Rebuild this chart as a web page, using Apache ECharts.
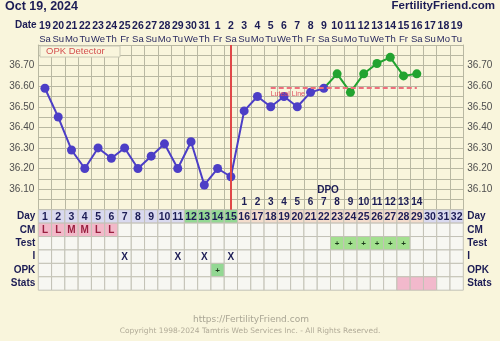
<!DOCTYPE html>
<html><head><meta charset="utf-8">
<script src="https://cdn.jsdelivr.net/npm/echarts@6/dist/echarts.min.js"></script>
<style>html,body{margin:0;padding:0;background:#f9f5dc;}#c{width:500px;height:341px;}</style>
</head><body><div id="c"></div>
<script>
// ---- data ----
const dayNums = ['1','2','3','4','5','6','7','8','9','10','11','12','13','14','15','16','17','18','19','20','21','22','23','24','25','26','27','28','29','30','31','32'];
const dates = ['19','20','21','22','23','24','25','26','27','28','29','30','31','1','2','3','4','5','6','7','8','9','10','11','12','13','14','15','16','17','18','19'];
const weekdays = ['Sa','Su','Mo','Tu','We','Th','Fr','Sa','Su','Mo','Tu','We','Th','Fr','Sa','Su','Mo','Tu','We','Th','Fr','Sa','Su','Mo','Tu','We','Th','Fr','Sa','Su','Mo','Tu'];
const temps = [36.59,36.45,36.29,36.20,36.30,36.25,36.30,36.20,36.26,36.32,36.20,36.33,36.12,36.20,36.16,36.48,36.55,36.50,36.55,36.50,36.57,36.59,36.66,36.57,36.66,36.71,36.74,36.65,36.66];
const follicularEnd = 22;   // last day drawn in blue
const coverLine = 36.59;
const coverStart = '18', coverEnd = '29';
const ovulationDay = '15';
const dpo = ['','','','','','','','','','','','','','','','1','2','3','4','5','6','7','8','9','10','11','12','13','14','','',''];
const dayPhase = ['a','a','a','a','a','a','a','a','a','a','a','f','f','f','f','l','l','l','l','l','l','l','l','l','l','l','l','l','l','a','a','a'];
const cm = ['L','L','M','M','L','L','','','','','','','','','','','','','','','','','','','','','','','','','',''];
const testDays = [23,24,25,26,27,28];
const intercourseDays = [7,11,13,15];
const opkDays = [14];
const statsDays = [28,29,30];
const rows = ['Day','CM','Test','I','OPK','Stats'];

// ---- build ----
const blue = temps.map((t,i)=> i < follicularEnd ? t : null);
const green = temps.map((t,i)=> i >= follicularEnd-1 ? {value:t, symbol: i===follicularEnd-1?'none':'circle'} : null);
const phaseCol = {a:'#d9d9ef', f:'#93d893', l:'#f3dccc'};
const cells = [];
for (let c=0;c<32;c++){
  const d=c+1;
  cells.push({v:[c,0], fill:phaseCol[dayPhase[c]], text:dayNums[c], color:'#1c1c55'});
  cells.push({v:[c,1], fill: cm[c]?'#f2b9c9':'#f7f7f2', text:cm[c], color:'#9a2040'});
  cells.push({v:[c,2], fill: testDays.includes(d)?'#a3e08f':'#f7f7f2', text: testDays.includes(d)?'+':'', color:'#1c3a1c'});
  cells.push({v:[c,3], fill:'#f7f7f2', text: intercourseDays.includes(d)?'X':'', color:'#1c1c55'});
  cells.push({v:[c,4], fill: opkDays.includes(d)?'#93d893':'#f7f7f2', text: opkDays.includes(d)?'+':'', color:'#1c3a1c'});
  cells.push({v:[c,5], fill: statsDays.includes(d)?'#f2b9cc':'#f7f7f2', text:'', color:'#000'});
}
const navy='#1c1c55', gridCol='#b9b8a2';
const FONT='Liberation Sans';
function tLabel(v){const c=Math.round(v*100); if(c%10!==0||c===3600||c===3680) return ''; return (c/100).toFixed(2);}

const chart = echarts.init(document.getElementById('c'), null, {renderer:'canvas'});
chart.setOption({
  backgroundColor:'#f9f5dc',
  animation:false,
  textStyle:{fontFamily:FONT},
  grid:[
    {left:38.3, right:36.7, top:45, height:164.7, show:true, backgroundColor:'#f9f5dc', borderWidth:0},
    {left:38.3, right:36.7, top:209.7, height:80.5, borderWidth:0}
  ],
  xAxis:[
    {type:'category', gridIndex:0, position:'top', data:dayNums, boundaryGap:true,
     axisLine:{show:true, lineStyle:{color:gridCol}}, axisTick:{show:false},
     splitLine:{show:true, interval:0, lineStyle:{color:gridCol, width:1}},
     axisLabel:{interval:0, margin:-1, formatter:(v,i)=>'{d|'+dates[i]+'}\n{w|'+weekdays[i]+'}',
       rich:{d:{fontFamily:FONT, fontWeight:'bold', fontSize:10.5, color:navy, lineHeight:13},
             w:{fontFamily:FONT, fontSize:9.5, color:'#2a2a60', lineHeight:13}}}},
    {type:'category', gridIndex:0, position:'bottom', data:dayNums, boundaryGap:true,
     axisLine:{show:false}, axisTick:{show:false}, splitLine:{show:false},
     axisLabel:{inside:true, interval:0, margin:2, formatter:(v,i)=>dpo[i], fontWeight:'bold', fontSize:10, color:navy, fontFamily:FONT}},
    {type:'category', gridIndex:1, data:dayNums, boundaryGap:true, show:false}
  ],
  yAxis:[
    {type:'value', gridIndex:0, min:36.0, max:36.8, interval:0.05, position:'left',
     axisLine:{show:true, lineStyle:{color:gridCol}}, axisTick:{show:false},
     splitLine:{show:true, lineStyle:{color:gridCol}},
     axisLabel:{formatter:tLabel, margin:4, fontSize:10, color:'#4e4e4e', fontFamily:FONT}},
    {type:'value', gridIndex:0, min:36.0, max:36.8, interval:0.05, position:'right',
     axisLine:{show:true, lineStyle:{color:gridCol}}, axisTick:{show:false}, splitLine:{show:false},
     axisLabel:{formatter:tLabel, margin:4, fontSize:10, color:'#4e4e4e', fontFamily:FONT}},
    {type:'category', gridIndex:1, data:rows, inverse:true, position:'left',
     axisLine:{show:false}, axisTick:{show:false},
     axisLabel:{margin:3, fontWeight:'bold', fontSize:10, color:navy, fontFamily:FONT}},
    {type:'category', gridIndex:1, data:rows, inverse:true, position:'right',
     axisLine:{show:false}, axisTick:{show:false},
     axisLabel:{margin:4, fontWeight:'bold', fontSize:10, color:navy, fontFamily:FONT}}
  ],
  series:[
    {type:'line', xAxisIndex:0, yAxisIndex:0, data:blue, symbol:'circle', symbolSize:9, connectNulls:false,
     lineStyle:{color:'#4c3ec6', width:2}, itemStyle:{color:'#4c3ec6'}, z:4,
     markLine:{silent:true, symbol:'none', animation:false,
       data:[{xAxis:ovulationDay, lineStyle:{color:'#e04848', width:2, type:'solid'}, label:{show:false}}]}},
    {type:'line', xAxisIndex:0, yAxisIndex:0, data:green, symbol:'circle', symbolSize:9,
     lineStyle:{color:'#22a330', width:2}, itemStyle:{color:'#22a330'}, z:3,
     markLine:{silent:true, symbol:'none', animation:false,
       data:[[{coord:[coverStart, coverLine]},{coord:[coverEnd, coverLine]}]],
       lineStyle:{color:'#ee6f7c', width:2, type:[5,3]},
       label:{show:true, position:'insideStartBottom', formatter:'Luteal Line', fontSize:7, color:'#e05060', distance:[0,2], fontFamily:FONT}}},
    {type:'custom', xAxisIndex:2, yAxisIndex:2, data:cells.map(c=>c.v), encode:{x:0,y:1},
     renderItem:(params, api)=>{
       const c = cells[params.dataIndex];
       const p = api.coord([api.value(0), api.value(1)]);
       const s = api.size([1,1]);
       return {type:'group', children:[
         {type:'rect', shape:{x:p[0]-s[0]/2, y:p[1]-s[1]/2, width:s[0], height:s[1]},
          style:{fill:c.fill, stroke:'#c3c2b6', lineWidth:1}},
         {type:'text', style:{text:c.text, x:p[0], y:p[1]+0.5, align:'center', verticalAlign:'middle',
          font:'bold '+(params.dataIndex%6===0?10.5:(c.text==='+'?8:10))+'px "'+FONT+'"', fill:c.color}}
       ]};
     }}
  ],
  graphic:[
    {type:'text', left:5, top:0, style:{text:'Oct 19, 2024', font:'bold 12.5px "'+FONT+'"', fill:navy}},
    {type:'text', right:5, top:0, style:{text:'FertilityFriend.com', font:'bold 11.5px "'+FONT+'"', fill:navy}},
    {type:'text', left:15, top:20, style:{text:'Date', font:'bold 10px "'+FONT+'"', fill:navy}},
    {type:'rect', shape:{x:40, y:46, width:80, height:11}, style:{fill:'#f9f5dc', stroke:'#c9c8b4', lineWidth:1}, z:10},
    {type:'text', x:46, y:46.5, style:{text:'OPK Detector', font:'9.5px "'+FONT+'"', fill:'#d45050'}, z:11},
    {type:'text', x:328, y:190, style:{text:'DPO', font:'bold 10px "'+FONT+'"', fill:navy, align:'center', verticalAlign:'middle'}, z:11},
    {type:'text', x:251, y:320, style:{text:'https://FertilityFriend.com', font:'9px "DejaVu Sans"', fill:'#a9a594', align:'center', verticalAlign:'middle'}},
    {type:'text', x:250, y:331, style:{text:'Copyright 1998-2024 Tamtris Web Services Inc. - All Rights Reserved.', font:'7.5px "DejaVu Sans"', fill:'#b1ab98', align:'center', verticalAlign:'middle'}}
  ]
});
</script></body></html>
